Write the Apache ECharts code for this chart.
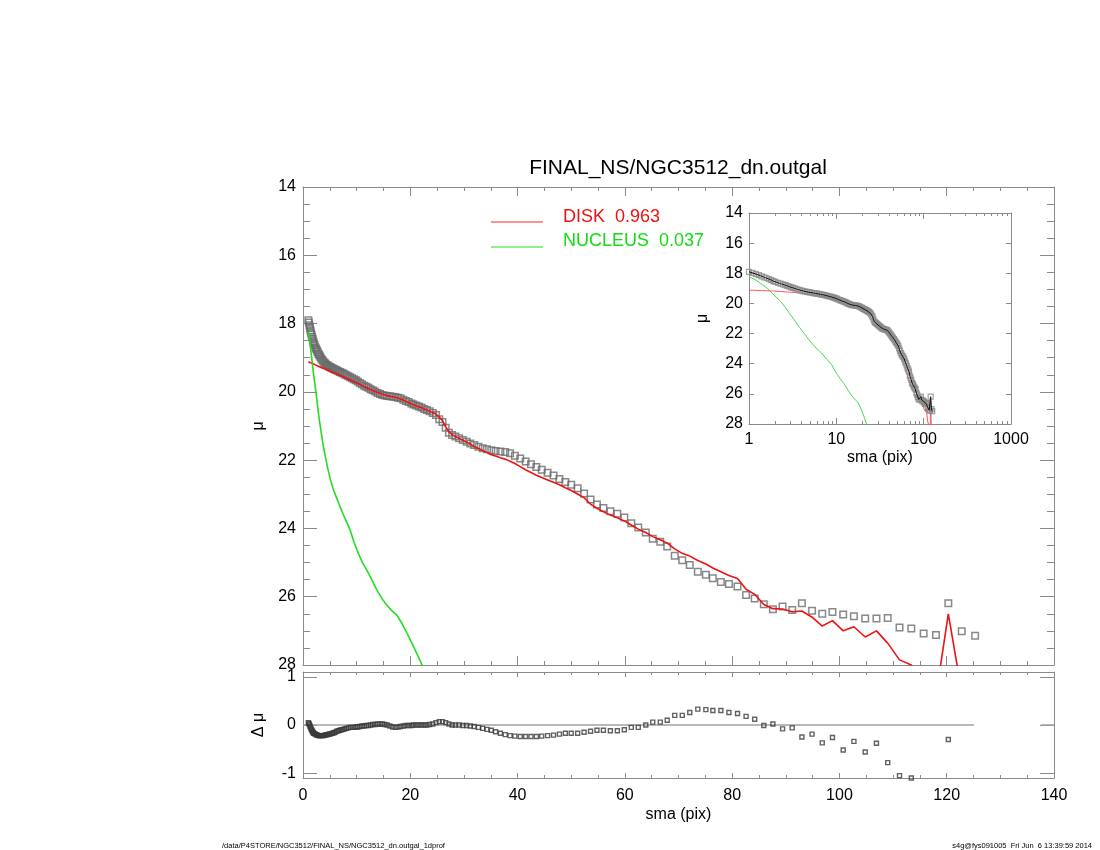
<!DOCTYPE html>
<html><head><meta charset="utf-8">
<script src="https://cdn.jsdelivr.net/npm/echarts@6/dist/echarts.min.js"></script>
<style>html,body{margin:0;padding:0;background:#fff}#c{width:1100px;height:850px}</style>
</head><body><div id="c"></div>
<script>
// semi-major axis (pix) of the profile points
const sma = [
 1.0,1.1,1.2,1.3,1.4,1.5,1.6,1.7,1.8,1.9,
 2.0,2.15,2.3,2.45,2.6,2.75,2.9,3.05,3.2,3.4,
 3.6,3.8,4.0,4.2,4.4,4.6,4.8,5.0,5.25,5.5,
 5.75,6.0,6.3,6.6,6.9,7.2,7.5,7.8,8.1,8.45,
 8.8,9.15,9.5,9.85,10.2,10.6,11.0,11.4,11.8,12.2,
 12.6,13.0,13.45,13.9,14.35,14.8,15.25,15.7,16.2,16.7,
 17.2,17.7,18.2,18.7,19.2,19.7,20.2,20.6,21.1,21.6,
 22.1,22.6,23.1,23.6,24.2,24.8,25.4,26.0,26.6,27.2,
 27.8,28.4,29.1,29.8,30.5,31.2,31.9,32.7,33.5,34.3,
 35.1,35.9,36.8,37.7,38.6,39.5,40.5,41.5,42.5,43.5,
 44.5,45.6,46.7,47.8,48.9,50.0,51.2,52.4,53.6,54.8,
 56.0,57.3,58.6,59.9,61.2,62.5,63.9,65.2,66.6,67.9,
 69.3,70.7,72.1,73.6,75.1,76.4,77.9,79.4,81.0,82.6,
 84.2,85.9,87.6,89.4,91.2,93.0,94.9,96.8,98.7,100.7,
 102.7,104.8,106.9,109.0,111.2,113.4,115.7,118.0,120.3,122.8,
 125.3
];
// observed surface brightness
const muObs = [
 17.90,17.97,18.05,18.12,18.20,18.27,18.33,18.39,18.45,18.52,
 18.57,18.63,18.69,18.74,18.79,18.84,18.89,18.93,18.97,19.02,
 19.07,19.11,19.15,19.18,19.21,19.23,19.25,19.27,19.29,19.31,
 19.33,19.35,19.37,19.40,19.42,19.44,19.46,19.49,19.51,19.54,
 19.57,19.60,19.63,19.66,19.70,19.74,19.78,19.82,19.85,19.88,
 19.92,19.95,19.99,20.03,20.06,20.09,20.11,20.12,20.13,20.14,
 20.15,20.17,20.19,20.23,20.27,20.30,20.34,20.37,20.40,20.43,
 20.46,20.50,20.53,20.57,20.62,20.68,20.80,20.88,21.05,21.20,
 21.26,21.31,21.36,21.41,21.46,21.51,21.56,21.61,21.65,21.68,
 21.71,21.73,21.75,21.76,21.80,21.87,21.95,22.04,22.12,22.20,
 22.28,22.37,22.45,22.55,22.64,22.72,22.82,22.98,23.15,23.30,
 23.40,23.50,23.57,23.68,23.85,23.97,24.12,24.30,24.39,24.53,
 24.80,24.93,25.07,25.27,25.36,25.46,25.57,25.63,25.70,25.95,
 26.05,26.22,26.37,26.29,26.39,26.19,26.41,26.50,26.45,26.52,
 26.57,26.64,26.64,26.62,26.90,26.93,27.08,27.12,26.19,27.01,
 27.14
];
// DISK component
const muDisk = [
 19.12,19.13,19.13,19.14,19.15,19.15,19.16,19.17,19.17,19.18,
 19.19,19.20,19.21,19.22,19.23,19.24,19.25,19.26,19.27,19.28,
 19.30,19.31,19.32,19.34,19.35,19.36,19.38,19.39,19.41,19.43,
 19.44,19.46,19.48,19.50,19.52,19.54,19.56,19.58,19.60,19.63,
 19.65,19.67,19.70,19.72,19.75,19.78,19.81,19.84,19.87,19.90,
 19.93,19.96,19.99,20.02,20.04,20.07,20.09,20.11,20.13,20.14,
 20.16,20.18,20.21,20.24,20.28,20.31,20.35,20.38,20.41,20.44,
 20.46,20.50,20.53,20.57,20.61,20.65,20.74,20.84,21.03,21.17,
 21.25,21.31,21.36,21.42,21.47,21.53,21.60,21.66,21.72,21.78,
 21.84,21.88,21.93,21.97,22.03,22.10,22.19,22.28,22.36,22.44,
 22.51,22.58,22.65,22.72,22.81,22.89,22.99,23.10,23.29,23.41,
 23.51,23.61,23.69,23.78,23.90,24.02,24.12,24.24,24.33,24.43,
 24.60,24.73,24.81,24.94,25.04,25.16,25.27,25.38,25.47,25.78,
 25.93,26.23,26.35,26.36,26.44,26.42,26.60,26.86,26.70,27.00,
 26.88,27.18,27.00,27.36,27.85,28.00,28.60,28.90,26.50,28.80,
 29.00
];
// residuals (data - model)
const dMu = [
 0.05,0.03,0.01,-0.02,-0.05,-0.08,-0.10,-0.12,-0.14,-0.16,
 -0.17,-0.18,-0.19,-0.20,-0.21,-0.21,-0.22,-0.22,-0.22,-0.22,
 -0.22,-0.22,-0.21,-0.21,-0.20,-0.20,-0.19,-0.19,-0.18,-0.17,
 -0.16,-0.15,-0.13,-0.12,-0.11,-0.10,-0.09,-0.08,-0.07,-0.06,
 -0.05,-0.05,-0.05,-0.04,-0.04,-0.03,-0.02,-0.02,-0.01,-0.01,
 0.00,0.01,0.01,0.02,0.02,0.02,0.01,0.00,-0.02,-0.04,
 -0.05,-0.04,-0.03,-0.02,-0.01,-0.01,-0.01,0.00,0.00,0.00,
 0.00,0.00,0.00,0.01,0.02,0.05,0.07,0.07,0.05,0.02,
 0.00,0.00,0.00,-0.01,-0.01,-0.02,-0.03,-0.05,-0.07,-0.09,
 -0.11,-0.14,-0.17,-0.20,-0.22,-0.23,-0.24,-0.24,-0.24,-0.24,
 -0.23,-0.22,-0.21,-0.19,-0.17,-0.17,-0.17,-0.15,-0.13,-0.11,
 -0.11,-0.12,-0.12,-0.10,-0.05,-0.05,0.00,0.06,0.06,0.10,
 0.20,0.20,0.26,0.33,0.32,0.30,0.30,0.26,0.24,0.18,
 0.12,-0.01,0.02,-0.08,-0.06,-0.25,-0.19,-0.37,-0.26,-0.52,
 -0.34,-0.56,-0.38,-0.78,-1.05,-1.10,-1.50,-1.80,-0.30,-1.60,
 -1.70
];
// NUCLEUS component
const nucSma = [1.0,1.2,1.4,1.62,1.9,2.24,2.6,2.9,3.3,3.8,4.3,4.7,5.2,5.7,6.3,6.9,7.8,8.8,9.5,10.3,11.1,11.9,12.8,13.75,14.7,15.6,16.5,17.5,18.5,19.4,20.3,21.2,22.2,23.0];
const muNuc  = [18.24,18.45,18.72,19.00,19.40,19.80,20.25,20.65,21.10,21.60,22.00,22.30,22.62,22.88,23.12,23.36,23.70,24.05,24.40,24.73,25.00,25.22,25.50,25.80,26.05,26.24,26.40,26.54,26.80,27.07,27.36,27.66,28.00,28.30];
// zero reference line segments in residual panel
const zeroSegA = [0, 125.1];
const zeroSegB = [137.6, 140];
const resTicks = [-1, 0, 1];
const logMinorTicks = [2,3,4,5,6,7,8,9,20,30,40,50,60,70,80,90,200,300,400,500,600,700,800,900];
const titleText = 'FINAL_NS/NGC3512_dn.outgal';
const legendDisk = 'DISK  0.963';
const legendNuc = 'NUCLEUS  0.037';
const footLeft = '/data/P4STORE/NGC3512/FINAL_NS/NGC3512_dn.outgal_1dprof';
const footRight = 's4g@fys091005  Fri Jun  6 13:39:59 2014';

const FONT = '"Liberation Sans", Arial, Helvetica, sans-serif';
const AX = '#8a8a8a';
const pairs = (xs, ys) => xs.map((x, i) => [x, ys[i]]);

function axis(o) {
  const base = {
    axisLine: { show: true, onZero: false, lineStyle: { color: AX, width: 1 } },
    splitLine: { show: false },
    axisTick: { show: true, inside: true, length: 8, lineStyle: { color: AX, width: 1 } },
    minorTick: { show: false },
    axisLabel: { show: false, color: '#000', fontSize: 16, fontFamily: FONT },
    nameTextStyle: { color: '#000', fontSize: 16, fontFamily: FONT }
  };
  const r = Object.assign({}, base, o);
  ['axisLine','axisTick','axisLabel','minorTick','nameTextStyle'].forEach(k => {
    if (o[k]) r[k] = Object.assign({}, base[k], o[k]);
  });
  return r;
}
const logFmt = v => String(Math.round(v));

const xAxes = [
  axis({ gridIndex: 0, type: 'value', position: 'bottom', min: 0, max: 140, interval: 20,
         axisTick: { length: 9 }, minorTick: { show: true, splitNumber: 4, length: 4, lineStyle: { color: AX } } }),
  axis({ gridIndex: 0, type: 'value', position: 'top', min: 0, max: 140, interval: 20,
         axisTick: { length: 9 }, minorTick: { show: true, splitNumber: 4, length: 4, lineStyle: { color: AX } } }),
  axis({ gridIndex: 1, type: 'value', position: 'bottom', min: 0, max: 140, interval: 20,
         axisTick: { length: 5 }, minorTick: { show: true, splitNumber: 4, length: 3, lineStyle: { color: AX } },
         axisLabel: { show: true, margin: 10 },
         name: 'sma (pix)', nameLocation: 'middle', nameGap: 29 }),
  axis({ gridIndex: 1, type: 'value', position: 'top', min: 0, max: 140, interval: 20,
         axisTick: { length: 5 }, minorTick: { show: true, splitNumber: 4, length: 3, lineStyle: { color: AX } } }),
  axis({ gridIndex: 2, type: 'log', logBase: 10, position: 'bottom', min: 1, max: 1000,
         axisTick: { length: 6 }, axisLabel: { show: true, margin: 8, formatter: logFmt, showMinLabel: true, showMaxLabel: true },
         name: 'sma (pix)', nameLocation: 'middle', nameGap: 26 }),
  axis({ gridIndex: 2, type: 'log', logBase: 10, position: 'top', min: 1, max: 1000,
         axisTick: { length: 6 } }),
  axis({ gridIndex: 2, type: 'log', logBase: 10, position: 'bottom', min: 1, max: 1000,
         axisLine: { show: false }, axisTick: { length: 3, customValues: logMinorTicks } }),
  axis({ gridIndex: 2, type: 'log', logBase: 10, position: 'top', min: 1, max: 1000,
         axisLine: { show: false }, axisTick: { length: 3, customValues: logMinorTicks } })
];
const yAxes = [
  axis({ gridIndex: 0, type: 'value', position: 'left', inverse: true, min: 14, max: 28, interval: 2,
         axisTick: { length: 14 }, minorTick: { show: true, splitNumber: 4, length: 7, lineStyle: { color: AX } },
         axisLabel: { show: true, margin: 7 },
         name: 'μ', nameLocation: 'middle', nameGap: 36, nameRotate: 90 }),
  axis({ gridIndex: 0, type: 'value', position: 'right', inverse: true, min: 14, max: 28, interval: 2,
         axisTick: { length: 14 }, minorTick: { show: true, splitNumber: 4, length: 7, lineStyle: { color: AX } } }),
  axis({ gridIndex: 1, type: 'value', position: 'left', min: -1.1, max: 1.1,
         axisTick: { length: 14, customValues: resTicks },
         axisLabel: { show: true, margin: 7, customValues: resTicks },
         name: 'Δ μ', nameLocation: 'middle', nameGap: 36, nameRotate: 90 }),
  axis({ gridIndex: 1, type: 'value', position: 'right', min: -1.1, max: 1.1,
         axisTick: { length: 14, customValues: resTicks } }),
  axis({ gridIndex: 2, type: 'value', position: 'left', inverse: true, min: 14, max: 28, interval: 2,
         axisTick: { length: 5 }, axisLabel: { show: true, margin: 6 },
         name: 'μ', nameLocation: 'middle', nameGap: 38, nameRotate: 90 }),
  axis({ gridIndex: 2, type: 'value', position: 'right', inverse: true, min: 14, max: 28, interval: 2,
         axisTick: { length: 5 } })
];

const hollowSq = (size, col, bw) => ({
  type: 'scatter', symbol: 'rect', symbolSize: size, silent: true,
  itemStyle: { color: 'rgba(255,255,255,0)', borderColor: col, borderWidth: bw }
});

const series = [
  Object.assign(hollowSq(6.5, '#6a6a6a', 1.5), { name: 'data', xAxisIndex: 0, yAxisIndex: 0, z: 2, data: pairs(sma, muObs) }),
  { type: 'line', name: legendDisk, xAxisIndex: 0, yAxisIndex: 0, z: 3, showSymbol: false, symbol: 'none', clip: true,
    lineStyle: { color: '#ee1111', width: 1.6 }, data: pairs(sma, muDisk) },
  { type: 'line', name: legendNuc, xAxisIndex: 0, yAxisIndex: 0, z: 3, showSymbol: false, symbol: 'none', clip: true,
    lineStyle: { color: '#22dd22', width: 1.6 }, data: pairs(nucSma, muNuc) },
  { type: 'line', xAxisIndex: 2, yAxisIndex: 2, z: 1, showSymbol: false, symbol: 'none',
    lineStyle: { color: '#a0a0a0', width: 1.5 }, data: zeroSegA.map(x => [x, 0]) },
  { type: 'line', xAxisIndex: 2, yAxisIndex: 2, z: 1, showSymbol: false, symbol: 'none',
    lineStyle: { color: '#a0a0a0', width: 1.5 }, data: zeroSegB.map(x => [x, 0]) },
  Object.assign(hollowSq(4, '#3a3a3a', 1.4), { xAxisIndex: 2, yAxisIndex: 2, z: 2, clip: true, data: pairs(sma, dMu) }),
  { type: 'line', xAxisIndex: 4, yAxisIndex: 4, z: 2, showSymbol: false, symbol: 'none', clip: true,
    lineStyle: { color: '#ff5555', width: 1 }, data: pairs(sma, muDisk) },
  { type: 'line', xAxisIndex: 4, yAxisIndex: 4, z: 2, showSymbol: false, symbol: 'none', clip: true,
    lineStyle: { color: '#44dd44', width: 1 }, data: pairs(nucSma, muNuc) },
  Object.assign(hollowSq(5, '#8a8a8a', 1.2), { xAxisIndex: 4, yAxisIndex: 4, z: 3, clip: true, data: pairs(sma, muObs) }),
  { type: 'line', xAxisIndex: 4, yAxisIndex: 4, z: 4, showSymbol: false, symbol: 'none', clip: true,
    lineStyle: { color: '#111', width: 1 }, data: pairs(sma, muObs) }
];

const chart = echarts.init(document.getElementById('c'), null, { renderer: 'canvas' });
chart.setOption({
  animation: false,
  backgroundColor: '#fff',
  textStyle: { fontFamily: FONT },
  grid: [
    { left: 303, top: 187, width: 751, height: 478 },
    { left: 303, top: 672, width: 751, height: 106 },
    { left: 749, top: 213, width: 262, height: 211 }
  ],
  xAxis: xAxes,
  yAxis: yAxes,
  series: series,
  graphic: [
    { type: 'text', x: 678, y: 168, style: { text: titleText, fontSize: 21, fontFamily: FONT, fill: '#000', textAlign: 'center', textVerticalAlign: 'middle' } },
    { type: 'line', shape: { x1: 491, y1: 222, x2: 543, y2: 222 }, style: { stroke: '#ff2222', lineWidth: 1 } },
    { type: 'text', x: 563, y: 217, style: { text: legendDisk, fontSize: 18, fontFamily: FONT, fill: '#ee1111', textAlign: 'left', textVerticalAlign: 'middle' } },
    { type: 'line', shape: { x1: 491, y1: 247, x2: 543, y2: 247 }, style: { stroke: '#22dd22', lineWidth: 1 } },
    { type: 'text', x: 563, y: 241, style: { text: legendNuc, fontSize: 18, fontFamily: FONT, fill: '#11dd11', textAlign: 'left', textVerticalAlign: 'middle' } },
    { type: 'text', x: 222, y: 846, style: { text: footLeft, fontSize: 7.5, fontFamily: FONT, fill: '#000', textAlign: 'left', textVerticalAlign: 'middle' } },
    { type: 'text', x: 1092, y: 846, style: { text: footRight, fontSize: 7.5, fontFamily: FONT, fill: '#000', textAlign: 'right', textVerticalAlign: 'middle' } }
  ]
});
</script>
</body></html>
